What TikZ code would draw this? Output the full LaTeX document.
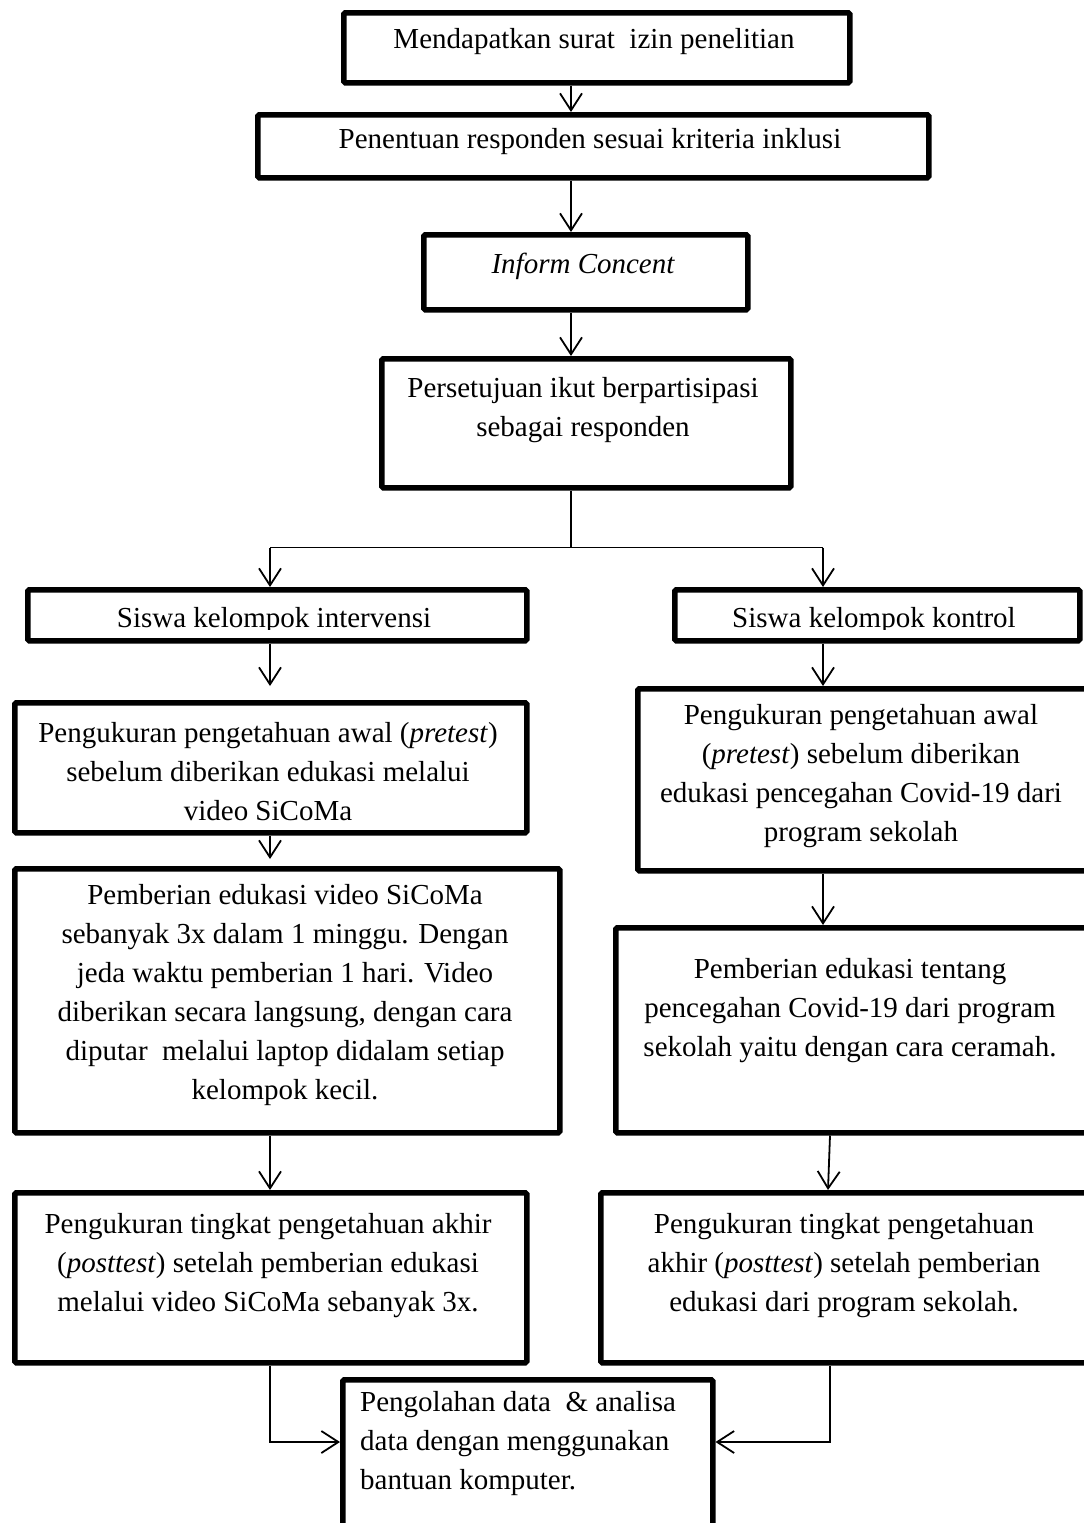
\documentclass[tikz,border=0pt]{standalone}
\usepackage{fontspec}
\setmainfont{Liberation Serif}
\usetikzlibrary{arrows.meta}
\begin{document}
\begin{tikzpicture}[x=1pt,y=-1pt,
  box/.style={draw, line width=5.5pt, rounded corners=1.5pt, inner sep=0pt,
    anchor=north west},
  txt/.style={font=\fontsize{29}{39}\selectfont, align=center, inner sep=0pt},
  arr/.style={line width=1.8pt, -{Straight Barb[length=17pt,width=22pt,line width=1.8pt]}},
  conn/.style={line width=1.8pt}
]
\useasboundingbox (0,0) rectangle (1084,1523);

% column guides for the connectors
\coordinate (stem) at (571,0);
\coordinate (colL) at (270,0);
\coordinate (colR) at (823,0);
\coordinate (colR2) at (830,0);
\coordinate (merge) at (0,1442);

% --- main line ---
\node[box, minimum width=506pt, minimum height=70pt] (b1) at (341,10) {};
\node[txt] (t1) at (594,42) {Mendapatkan surat\ \ izin penelitian};

\node[box, minimum width=671pt, minimum height=63pt] (b2) at (255,112) {};
\node[txt] (t2) at (590,142) {Penentuan responden sesuai kriteria inklusi};

\node[box, minimum width=324pt, minimum height=75pt] (b3) at (421,232) {};
\node[txt] (t3) at (583,266) {\itshape Inform Concent};

\node[box, minimum width=409pt, minimum height=129pt] (b4) at (379,356) {};
\node[txt] (t4) at (583,410) {Persetujuan ikut berpartisipasi\\sebagai responden};

% --- group headers ---
\node[box, minimum width=499pt, minimum height=51pt] (b5l) at (25,587) {};
\node[box, minimum width=405pt, minimum height=51pt] (b5r) at (672,587) {};
\begin{scope}
  \clip (b5l.north west) rectangle ([yshift=14pt]b5l.south east);
  \node[txt, anchor=base] (t5l) at (274,627) {Siswa kelompok intervensi};
\end{scope}
\begin{scope}
  \clip (b5r.north west) rectangle ([yshift=14pt]b5r.south east);
  \node[txt, anchor=base] (t5r) at (874,627) {Siswa kelompok kontrol};
\end{scope}

% --- pretest ---
\node[box, minimum width=512pt, minimum height=130pt] (b6l) at (12,700) {};
\node[txt] (t6l) at (268,772) {Pengukuran pengetahuan awal (\textit{pretest})\\
  sebelum diberikan edukasi melalui\\video SiCoMa};

\node[box, minimum width=455pt, minimum height=182pt] (b6r) at (635,686) {};
\node[txt] (t6r) at (861,776) {Pengukuran pengetahuan awal\\
  (\textit{pretest}) sebelum diberikan\\
  edukasi pencegahan Covid-19 dari\\program sekolah};

% --- education ---
\node[box, minimum width=545pt, minimum height=264pt] (b7l) at (12,866) {};
\node[txt] (t7l) at (285,995) {Pemberian edukasi video SiCoMa\\
  sebanyak 3x dalam 1 minggu. Dengan\\
  jeda waktu pemberian 1 hari. Video\\
  diberikan secara langsung, dengan cara\\
  diputar\ \ melalui laptop didalam setiap\\
  kelompok kecil.};

\node[box, minimum width=477pt, minimum height=205pt] (b7r) at (613,925) {};
\node[txt] (t7r) at (850,1011) {Pemberian edukasi tentang\\
  pencegahan Covid-19 dari program\\
  sekolah yaitu dengan cara ceramah.};

% --- posttest ---
\node[box, minimum width=512pt, minimum height=170pt] (b8l) at (12,1190) {};
\node[txt] (t8l) at (268,1266) {Pengukuran tingkat pengetahuan akhir\\
  (\textit{posttest}) setelah pemberian edukasi\\
  melalui video SiCoMa sebanyak 3x.};

\node[box, minimum width=492pt, minimum height=170pt] (b8r) at (598,1190) {};
\node[txt] (t8r) at (844,1266) {Pengukuran tingkat pengetahuan\\
  akhir (\textit{posttest}) setelah pemberian\\
  edukasi dari program sekolah.};

% --- analysis ---
\node[box, minimum width=370pt, minimum height=160pt] (b9) at (340,1377) {};
\node[txt, align=left, anchor=west] (t9) at (360,1444) {Pengolahan data\ \ \& analisa\\
  data dengan menggunakan\\bantuan komputer.};

% --- connectors ---
\draw[arr] (b1.south -| stem) -- (b2.north -| stem);
\draw[arr] (b2.south -| stem) -- (b3.north -| stem);
\draw[arr] (b3.south -| stem) -- (b4.north -| stem);
\draw[conn] (b4.south -| stem) -- ++(0,57) coordinate (split);
\draw[arr] (split -| colL) -- (b5l.north -| colL);
\draw[arr] (split -| colR) -- (b5r.north -| colR);
\draw[conn] (split -| colL) -- (split -| colR);

\draw[arr, shorten >=14pt] (b5l.south -| colL) -- (b6l.north -| colL);
\draw[arr] (b5r.south -| colR) -- (b6r.north -| colR);
\draw[arr, shorten >=7pt] (b6l.south -| colL) -- (b7l.north -| colL);
\draw[arr] (b6r.south -| colR) -- (b7r.north -| colR);
\draw[arr] (b7l.south -| colL) -- (b8l.north -| colL);
\draw[arr] (b7r.south -| colR2) -- ([xshift=-2pt]b8r.north -| colR2);

\draw[arr] (b8l.south -| colL) -- (merge -| colL) -- (merge -| b9.west);
\draw[arr] (b8r.south -| colR2) -- (merge -| colR2) -- (merge -| b9.east);
\end{tikzpicture}
\end{document}
